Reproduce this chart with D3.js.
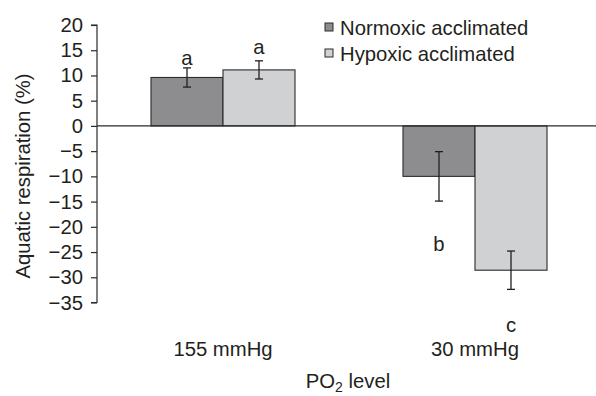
<!DOCTYPE html>
<html>
<head>
<meta charset="utf-8">
<script src="https://cdn.jsdelivr.net/npm/d3@7"></script>
<style>
  html, body { margin: 0; padding: 0; background: #fff; }
  text { font-family: "Liberation Sans", Arial, Helvetica, sans-serif; fill: #231f20; }
</style>
</head>
<body>
<svg id="chart" width="596" height="396"></svg>
<script>
const categories = ["155 mmHg", "30 mmHg"];
const seriesNames = ["Normoxic acclimated", "Hypoxic acclimated"];
const normoxic = [9.6, -10.0];
const hypoxic = [11.1, -28.6];
const normoxicErr = [1.9, 4.9];
const hypoxicErr = [1.8, 3.8];
const letters = [["a", "b"], ["a", "c"]];           // [series][category]
const letterValues = [[13.4, -23.4], [15.6, -39.4]]; // y-position in data units
const yTicks = [20, 15, 10, 5, 0, -5, -10, -15, -20, -25, -30, -35];
const colors = ["#8d8d8f", "#d0d1d3"];

const FS = 20.3;
const svg = d3.select("#chart");
const axisX = 97;

const y = d3.scaleLinear().domain([-35, 20]).range([302.5, 25]);
const x0 = d3.scaleBand().domain(categories).range([axisX, 601]).padding(0);
const x1 = d3.scaleBand().domain(seriesNames).range([0, x0.bandwidth()]).paddingInner(0).paddingOuter(0.75);

const values = [normoxic, hypoxic];
const errs = [normoxicErr, hypoxicErr];

const data = [];
categories.forEach((c, ci) => {
  seriesNames.forEach((s, si) => {
    data.push({ c, s, si, ci, v: values[si][ci], e: errs[si][ci], L: letters[si][ci], lv: letterValues[si][ci] });
  });
});

// Bars
svg.append("g").selectAll("rect").data(data).join("rect")
  .attr("x", d => x0(d.c) + x1(d.s))
  .attr("y", d => y(Math.max(0, d.v)))
  .attr("width", x1.bandwidth())
  .attr("height", d => Math.abs(y(d.v) - y(0)))
  .attr("fill", d => colors[d.si])
  .attr("stroke", "#2b2b2b")
  .attr("stroke-width", 1.1);

// Zero line
svg.append("line")
  .attr("x1", axisX).attr("x2", 596)
  .attr("y1", y(0)).attr("y2", y(0))
  .attr("stroke", "#2b2b2b").attr("stroke-width", 1.2);

// Y axis
const yAxis = d3.axisLeft(y).tickValues(yTicks).tickSize(6).tickPadding(8)
  .tickFormat(d => d < 0 ? "\u2212" + Math.abs(d) : d);
const gy = svg.append("g").attr("transform", `translate(${axisX},0)`).call(yAxis);
gy.select(".domain").attr("stroke", "#2b2b2b").attr("stroke-width", 1.2).attr("d", `M-6,${y(20)}H0V${y(-35)}H-6`);
gy.selectAll(".tick line").attr("stroke", "#2b2b2b").attr("stroke-width", 1.2);
gy.selectAll(".tick text").attr("font-size", FS).attr("fill", "#231f20")
  .style("font-family", '"Liberation Sans", Arial, sans-serif');

// Error bars
const eb = svg.append("g").attr("stroke", "#231f20").attr("stroke-width", 1.3);
data.forEach(d => {
  const cx = x0(d.c) + x1(d.s) + x1.bandwidth() / 2;
  eb.append("line").attr("x1", cx).attr("x2", cx).attr("y1", y(d.v + d.e)).attr("y2", y(d.v - d.e));
  eb.append("line").attr("x1", cx - 4).attr("x2", cx + 4).attr("y1", y(d.v + d.e)).attr("y2", y(d.v + d.e));
  eb.append("line").attr("x1", cx - 4).attr("x2", cx + 4).attr("y1", y(d.v - d.e)).attr("y2", y(d.v - d.e));
});

// Significance letters
svg.append("g").selectAll("text").data(data).join("text")
  .attr("x", d => x0(d.c) + x1(d.s) + x1.bandwidth() / 2)
  .attr("y", d => y(d.lv))
  .attr("dy", "0.35em")
  .attr("text-anchor", "middle")
  .attr("font-size", FS)
  .text(d => d.L);

// Category labels
svg.append("g").selectAll("text").data(categories).join("text")
  .attr("x", d => x0(d) + x0.bandwidth() / 2)
  .attr("y", 356)
  .attr("text-anchor", "middle")
  .attr("font-size", FS)
  .text(d => d);

// X axis title
const xt = svg.append("text").attr("x", 348).attr("y", 388).attr("text-anchor", "middle").attr("font-size", FS);
xt.append("tspan").text("PO");
xt.append("tspan").attr("font-size", 14).attr("dy", 4).text("2");
xt.append("tspan").attr("dy", -4).text(" level");

// Y axis title
svg.append("text")
  .attr("transform", "translate(30,176) rotate(-90)")
  .attr("text-anchor", "middle")
  .attr("font-size", FS)
  .text("Aquatic respiration (%)");

// Legend
const lg = svg.append("g").attr("transform", "translate(325,0)");
seriesNames.forEach((s, i) => {
  const yy = 28 + i * 26;
  lg.append("rect").attr("x", 0).attr("y", yy - 5).attr("width", 8).attr("height", 8)
    .attr("fill", colors[i]).attr("stroke", "#2b2b2b").attr("stroke-width", 1);
  lg.append("text").attr("x", 15).attr("y", yy + 7).attr("font-size", FS).text(s);
});
</script>
</body>
</html>
